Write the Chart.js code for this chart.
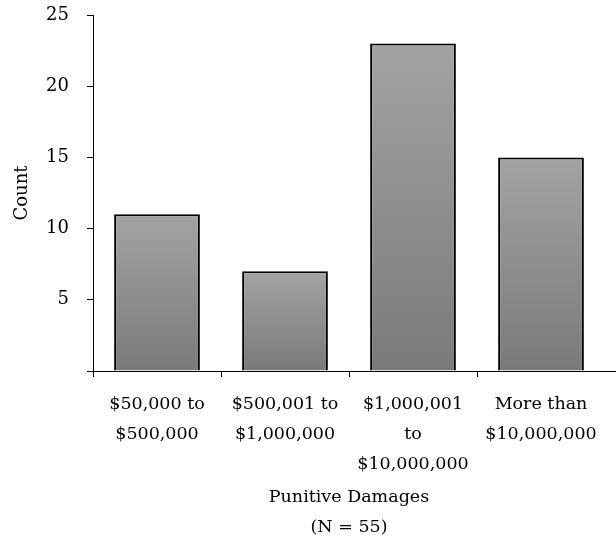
<!DOCTYPE html>
<html>
<head>
<meta charset="utf-8">
<script src="https://cdn.jsdelivr.net/npm/chart.js@4/dist/chart.umd.min.js"></script>
<style>
  html, body { margin: 0; padding: 0; background: #fff; }
  #wrap { width: 616px; height: 539px; }
</style>
</head>
<body>
<div id="wrap"><canvas id="chart" width="616" height="539"></canvas></div>
<script>
const categories = [
  ['$50,000 to', '$500,000'],
  ['$500,001 to', '$1,000,000'],
  ['$1,000,001', 'to', '$10,000,000'],
  ['More than', '$10,000,000']
];
const counts = [11, 7, 23, 15];
const yTicks = [0, 5, 10, 15, 20, 25];
const xTitle = ['Punitive Damages', '(N = 55)'];
const yTitle = 'Count';

const FONT = "'DejaVu Serif', serif";

// per-bar vertical gradient, light on top, darker at the base
function barFill(ctx) {
  const chart = ctx.chart;
  const y = chart.scales.y;
  if (!y || ctx.raw == null) return '#909090';
  const top = y.getPixelForValue(ctx.raw);
  const bottom = y.getPixelForValue(0);
  if (!isFinite(top) || !isFinite(bottom) || top === bottom) return '#909090';
  const g = chart.ctx.createLinearGradient(0, top, 0, bottom);
  g.addColorStop(0, '#a3a3a3');
  g.addColorStop(1, '#7a7a7a');
  return g;
}

// the x axis line runs on to the right edge of the picture
const axisTail = {
  id: 'axisTail',
  afterDraw(chart) {
    const { ctx, chartArea } = chart;
    ctx.save();
    ctx.strokeStyle = '#000';
    ctx.lineWidth = 1;
    ctx.beginPath();
    ctx.moveTo(chartArea.right, chartArea.bottom + 0.5);
    ctx.lineTo(chart.width, chartArea.bottom + 0.5);
    ctx.stroke();
    ctx.restore();
  }
};

new Chart(document.getElementById('chart'), {
  type: 'bar',
  data: {
    labels: categories,
    datasets: [{
      data: counts,
      backgroundColor: barFill,
      borderColor: '#000',
      borderWidth: 2,
      categoryPercentage: 0.67,
      barPercentage: 1
    }]
  },
  options: {
    responsive: false,
    animation: false,
    layout: { padding: { top: 15, right: 11, left: 0, bottom: 0 } },
    plugins: {
      legend: { display: false },
      tooltip: { enabled: false }
    },
    scales: {
      x: {
        grid: {
          offset: true,
          drawOnChartArea: false,
          tickLength: 6,
          tickColor: c => (c.type === 'tick' ? '#000' : 'rgba(0,0,0,0)')
        },
        border: { color: '#000', width: 1 },
        ticks: {
          color: '#000',
          font: { family: FONT, size: 17.5, lineHeight: 1.7 },
          padding: 13,
          maxRotation: 0,
          autoSkip: false
        },
        title: {
          display: true,
          text: xTitle,
          color: '#000',
          font: { family: FONT, size: 17.5, lineHeight: 1.7 },
          padding: { top: 0, bottom: -3 }
        },
        afterFit: axis => { axis.height = 168; }
      },
      y: {
        min: 0,
        max: 25,
        afterBuildTicks: axis => { axis.ticks = yTicks.map(v => ({ value: v })); },
        grid: { drawOnChartArea: false, tickLength: 6, tickColor: '#000' },
        border: { color: '#000', width: 1 },
        ticks: {
          color: '#000',
          font: { family: FONT, size: 18 },
          padding: 18,
          callback: v => (v === 0 ? '' : v)
        },
        title: {
          display: true,
          text: yTitle,
          color: '#000',
          font: { family: FONT, size: 18 },
          padding: { top: 12, bottom: 0 }
        },
        afterFit: axis => {
          axis.width = 93;
          axis.paddingTop = 0;
          axis.paddingBottom = 0;
        }
      }
    }
  },
  plugins: [axisTail]
});
</script>
</body>
</html>
